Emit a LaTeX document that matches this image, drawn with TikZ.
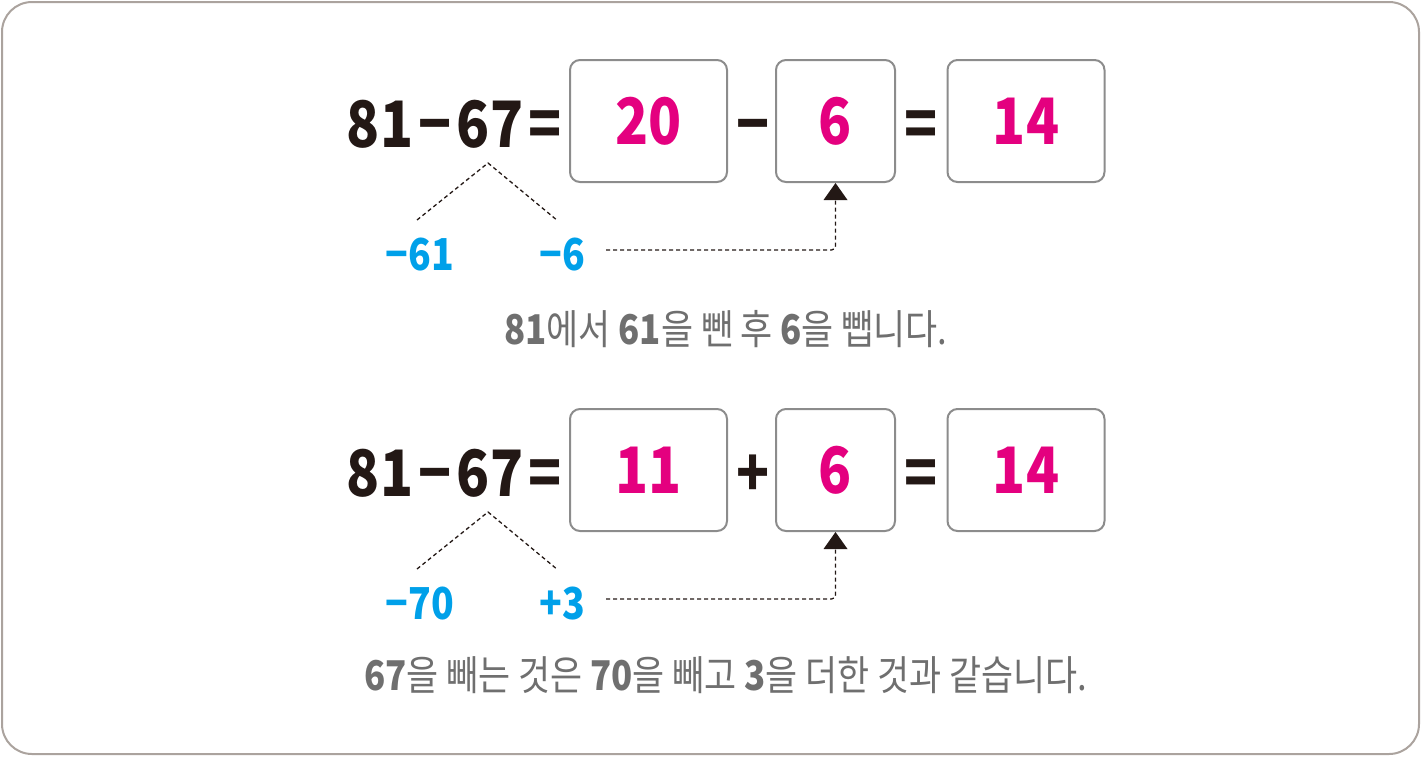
\documentclass[tikz,border=0pt]{standalone}
\usepackage{fontspec}
\usepackage{xcolor}
\usepackage{tikz}
\usetikzlibrary{arrows.meta}
\setmainfont{Noto Sans CJK KR}[FakeStretch=0.85]
\definecolor{ink}{HTML}{231815}
\definecolor{hot}{HTML}{E4007F}
\definecolor{sky}{HTML}{00A0E9}
\definecolor{note}{HTML}{6F6F6F}
\definecolor{boxline}{HTML}{8C8C8C}
\definecolor{frame}{HTML}{ABA39E}
\tikzstyle{big}=[font=\fontsize{64}{64}\selectfont\bfseries,text=ink,inner sep=0,anchor=base]

\begin{document}
\begin{tikzpicture}[x=1pt,y=-1pt]
					\tikzstyle{ansbox}=[draw=boxline,line width=2pt,rounded corners=10pt,minimum width=157pt,minimum height=122pt,font=\fontsize{64}{64}\selectfont\bfseries,text=hot]
					\tikzstyle{midbox}=[ansbox,minimum width=119pt]
					\tikzstyle{part}=[font=\fontsize{44}{44}\selectfont\bfseries,text=sky,inner sep=0,anchor=base]
					\tikzstyle{say}=[font=\fontsize{41}{41}\selectfont,text=note,inner sep=0,anchor=base]
					\tikzstyle{dots}=[draw=ink,line width=1.3pt,dash pattern=on 4pt off 3pt]
					\tikzstyle{tip}=[-{Triangle[width=24pt,length=17pt,line width=0pt]}]
					\useasboundingbox (0,0) rectangle (1421,756);
					\draw[frame,line width=2pt,rounded corners=30pt] (2,2) rectangle (1419,754);
					\foreach \row/\dy/\mid/\op/\lpart/\rpart in {1/0/20/{−}/{−61}/{−6},2/349/11/{+}/{−70}/{+3}}{
						\begin{scope}[yshift=-\dy pt]
							\node[big] (n81\row) at (380,147) {81};
							\node[big] (m\row) at (435,147) {−};
							\node[big] (n67\row) at (490,147) {67};
							\node[big] (e\row) at (545,147) {=};
							\node[ansbox] (a\row) at (648.5,121) {\mid};
							\node[big] (o\row) at (753,147) {\op};
							\node[midbox] (b\row) at (835.5,121) {6};
							\node[big] (f\row) at (921,147) {=};
							\node[ansbox] (c\row) at (1026,121) {14};
							\node[part] (l\row) at (420,270) {\lpart};
							\node[part] (r\row) at (562,270) {\rpart};
							\coordinate (t\row) at (488,163);
							\coordinate (lt\row) at (417,220);
							\coordinate (rt\row) at (558,221);
							\coordinate (h\row) at (606,250);
							\draw[dots] (lt\row) -- (t\row) -- (rt\row);
							\draw[dots,tip,rounded corners=4pt] (h\row) -| (b\row.south);
						\end{scope}
					}
					\node[say] (s1) at (726,344) {{\bfseries 81}에서 {\bfseries 61}을 뺀 후 {\bfseries 6}을 뺍니다.};
					\node[say] (s2) at (726,690) {{\bfseries 67}을 빼는 것은 {\bfseries 70}을 빼고 {\bfseries 3}을 더한 것과 같습니다.};
\end{tikzpicture}
\end{document}
